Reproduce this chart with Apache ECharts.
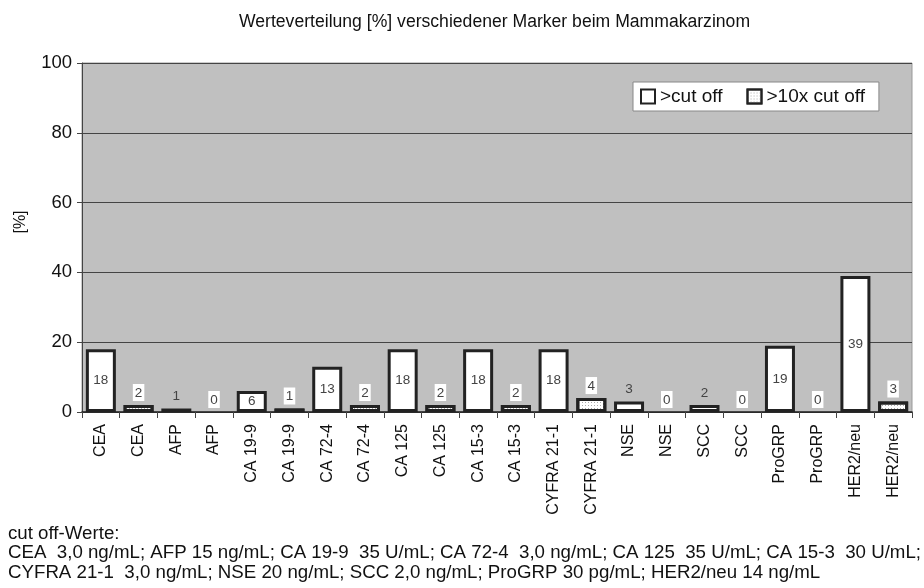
<!DOCTYPE html>
<html>
<head>
<meta charset="utf-8">
<script src="https://cdn.jsdelivr.net/npm/echarts@6/dist/echarts.min.js"></script>
<style>
  html, body { margin: 0; padding: 0; background: #fff; }
  #chart { width: 924px; height: 588px; }
</style>
</head>
<body>
<div id="chart"></div>
<script>
  const markers = ['CEA', 'AFP', 'CA 19-9', 'CA 72-4', 'CA 125', 'CA 15-3', 'CYFRA 21-1', 'NSE', 'SCC', 'ProGRP', 'HER2/neu']
  const cutOff = [18, 1, 6, 13, 18, 18, 18, 3, 2, 19, 39]
  const tenX = [2, 0, 1, 2, 2, 2, 4, 0, 0, 0, 3]
  const seriesNames = ['>cut off', '>10x cut off']
  const yTicks = [0, 20, 40, 60, 80, 100]
  const footer = [
    'cut off-Werte:',
    'CEA  3,0 ng/mL; AFP 15 ng/mL; CA 19-9  35 U/mL; CA 72-4  3,0 ng/mL; CA 125  35 U/mL; CA 15-3  30 U/mL;',
    'CYFRA 21-1  3,0 ng/mL; NSE 20 ng/mL; SCC 2,0 ng/mL; ProGRP 30 pg/mL; HER2/neu 14 ng/mL',
  ]

  const font = 'Liberation Sans, Arial, sans-serif'

  // each marker gets two slots: first >cut off, then >10x cut off
  const categories = []
  const dataA = []
  const dataB = []
  markers.forEach((m, i) => {
    categories.push(m, m)
    dataA.push(
      {
        value: cutOff[i],
        label: cutOff[i] < 5 ? { position: 'top', distance: 5 } : { position: 'inside' },
      },
      '-'
    )
    dataB.push('-', {
      value: tenX[i],
      itemStyle: tenX[i] === 0 ? { borderWidth: 0 } : {},
    })
  })

  const barStyle = {
    color: '#fff',
    borderColor: '#222',
    borderWidth: 3,
  }

  const options = {
    animation: false,
    textStyle: { fontFamily: font },
    title: {
      text: 'Werteverteilung [%] verschiedener Marker beim Mammakarzinom',
      left: 234,
      top: 8,
      textStyle: { fontSize: 17.6, fontWeight: 'normal', color: '#111', fontFamily: font },
    },
    legend: {
      left: 633,
      top: 82,
      orient: 'horizontal',
      backgroundColor: '#fff',
      borderColor: '#888',
      borderWidth: 1,
      padding: [5, 14, 5, 7],
      itemWidth: 14,
      itemHeight: 14,
      itemGap: 24,
      icon: 'rect',
      textStyle: { fontSize: 19, color: '#111', fontFamily: font },
      data: seriesNames,
    },
    grid: {
      left: 82,
      right: 12,
      top: 63,
      bottom: 176,
      show: true,
      backgroundColor: '#c0c0c0',
      borderColor: '#999',
      borderWidth: 1,
    },
    xAxis: {
      type: 'category',
      data: categories,
      axisLine: { lineStyle: { color: '#222', width: 1.5 } },
      axisTick: { show: true, length: 6, lineStyle: { color: '#444' } },
      axisLabel: {
        rotate: 90,
        interval: 0,
        fontSize: 16,
        color: '#111',
        margin: 12,
      },
    },
    yAxis: {
      type: 'value',
      min: yTicks[0],
      max: yTicks[yTicks.length - 1],
      interval: 20,
      axisLine: { show: true, lineStyle: { color: '#444' } },
      axisTick: { show: true, length: 5, lineStyle: { color: '#444' } },
      axisLabel: { fontSize: 18.5, color: '#111', margin: 10 },
      splitLine: { lineStyle: { color: '#444', width: 1 } },
    },
    series: [
      {
        name: seriesNames[0],
        type: 'bar',
        data: dataA,
        barWidth: 30,
        barGap: '-100%',
        itemStyle: barStyle,
        label: {
          show: true,
          color: '#444',
          fontSize: 13.5,
        },
      },
      {
        name: seriesNames[1],
        type: 'bar',
        data: dataB,
        barWidth: 30,
        itemStyle: Object.assign({}, barStyle, {
          decal: {
            symbol: 'rect',
            symbolSize: 1,
            dashArrayX: [1, 2],
            dashArrayY: [1, 2],
            color: '#aaa',
          },
        }),
        label: {
          show: true,
          position: 'top',
          distance: 4,
          color: '#444',
          fontSize: 13.5,
          backgroundColor: '#fff',
          padding: [2, 2, 1, 2],
        },
      },
    ],
    graphic: [
      {
        // y axis title, rotated like the Excel original
        type: 'text',
        x: 21,
        y: 222,
        rotation: Math.PI / 2,
        style: { text: '[%]', fontSize: 16, fill: '#111', fontFamily: font, align: 'center', verticalAlign: 'middle' },
      },
    ].concat(
      footer.map((t, i) => ({
        type: 'text',
        left: 8,
        top: 524 + i * 19.5,
        style: { text: t, fontSize: 18.7, fill: '#111', fontFamily: font },
      }))
    ),
  }

  const chart = echarts.init(document.getElementById('chart'))
  chart.setOption(options)
  window.addEventListener('resize', function () {
    chart && chart.resize()
  })
</script>
</body>
</html>
